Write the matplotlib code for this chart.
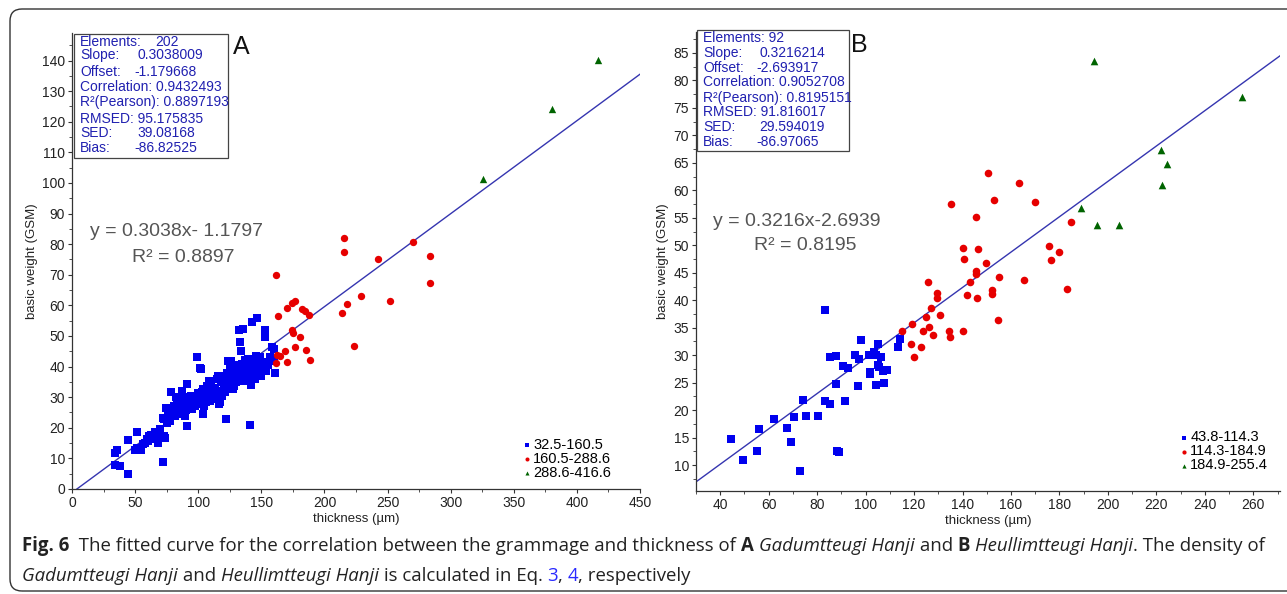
import numpy as np
import matplotlib
matplotlib.use('Agg')
import matplotlib.pyplot as plt
from matplotlib.patches import Rectangle, FancyBboxPatch
from matplotlib.transforms import IdentityTransform
from matplotlib.ticker import MultipleLocator

plt.rcParams['font.family'] = ['Liberation Sans', 'DejaVu Sans']

# ---- panel A (Gadumtteugi Hanji) ----
a_blue_x = [33.9, 34.2, 35.5, 38.2, 44.7, 44.7, 51.6, 50.0, 51.3, 54.6,
            56.2, 57.9, 59.5, 61.2, 62.8, 64.5, 66.1, 67.8, 69.4, 71.0,
            72.0, 72.7, 73.7, 71.7, 72.7, 74.3, 75.0, 76.0, 77.6, 78.3,
            79.3, 80.9, 82.6, 83.5, 84.2, 85.8, 86.8, 87.5, 89.1, 90.1,
            90.8, 91.4, 92.4, 93.4, 94.1, 94.7, 95.7, 97.4, 99.0, 100.6,
            101.3, 102.3, 103.3, 103.9, 104.6, 105.6, 106.6, 107.2, 108.2, 108.9,
            109.9, 110.5, 111.2, 112.2, 113.1, 113.8, 115.4, 116.4, 117.1, 118.7,
            120.4, 121.4, 122.0, 123.0, 123.7, 124.3, 125.3, 126.3, 127.0, 127.6,
            128.6, 129.6, 130.2, 130.9, 131.9, 132.5, 132.9, 133.5, 134.2, 135.2,
            135.2, 136.2, 136.8, 137.5, 138.5, 139.5, 140.1, 141.1, 141.8, 142.4,
            143.4, 144.1, 145.0, 146.0, 146.7, 147.3, 148.3, 149.3, 150.0, 151.6,
            152.6, 153.3, 153.9, 157.2, 158.2, 159.2, 159.8, 160.5, 160.3,
            60.5, 63.5, 66.0, 68.5, 70.0, 76.5, 78.0, 81.5, 83.0, 84.8,
            86.0, 88.0, 89.5, 91.0, 92.8, 94.5, 96.5, 98.0, 99.5, 101.0,
            102.5, 104.0, 105.0, 106.0, 107.8, 109.0, 110.0, 111.8, 113.5, 114.5,
            116.0, 117.8, 119.0, 120.0, 121.0, 122.5, 124.0, 125.8, 127.5, 128.0,
            129.0, 130.5, 131.0, 132.0, 133.5, 134.5, 136.0, 137.0, 138.0, 139.0,
            140.5, 142.0, 143.0, 144.5, 145.5, 147.0, 148.0, 150.5, 152.0, 155.0]
a_blue_y = [8.0, 11.6, 12.7, 7.4, 5.0, 16.0, 18.6, 12.7, 13.5, 12.9,
            14.6, 15.1, 16.4, 17.3, 17.8, 16.4, 17.3, 14.9, 18.2, 17.3,
            8.8, 17.3, 16.8, 23.3, 22.8, 26.6, 21.5, 23.9, 22.2, 31.8,
            25.5, 27.2, 30.2, 26.1, 24.4, 25.2, 32.1, 28.3, 29.9, 25.7,
            20.6, 34.3, 27.2, 28.0, 29.3, 26.1, 27.7, 27.2, 43.0, 29.1,
            39.7, 39.2, 31.8, 24.4, 27.2, 31.0, 33.5, 29.3, 35.4, 30.2,
            31.0, 31.5, 32.6, 29.3, 29.9, 31.0, 37.0, 27.7, 28.5, 32.1,
            33.9, 34.6, 22.8, 35.9, 41.9, 33.2, 39.2, 41.9, 39.2, 32.6,
            33.5, 39.2, 34.8, 37.0, 38.7, 52.1, 48.0, 45.2, 37.0, 52.3,
            35.4, 40.1, 38.7, 35.9, 37.0, 42.5, 39.7, 20.8, 33.9, 54.5,
            38.1, 40.8, 35.9, 41.4, 55.8, 39.7, 42.5, 43.0, 37.0, 38.7,
            49.6, 51.8, 38.7, 43.0, 46.3, 42.5, 45.8, 37.8, 41.9,
            15.8, 16.9, 18.5, 17.0, 19.5, 24.8, 26.3, 24.0, 28.5, 29.5,
            27.0, 26.5, 24.0, 28.8, 26.0, 30.5, 28.6, 30.0, 31.5, 27.8,
            30.8, 32.8, 29.8, 28.3, 32.2, 28.9, 33.8, 30.5, 33.0, 35.8,
            31.2, 35.0, 30.5, 36.8, 31.8, 38.0, 36.5, 34.5, 37.5, 36.0,
            40.5, 36.2, 40.0, 35.5, 39.0, 41.0, 37.5, 42.0, 39.5, 36.5,
            41.5, 37.2, 40.0, 38.5, 43.5, 38.5, 41.0, 40.5, 41.5, 40.5]
a_red_x = [163.1, 170.4, 174.3, 176.6, 182.5, 184.5, 187.8, 174.6, 175.0, 180.6,
           176.3, 185.5, 188.8, 168.4, 165.1, 162.2, 161.5, 170.0, 214.1, 217.7,
           228.6, 251.6, 223.7, 283.5, 161.8, 215.8, 215.8, 242.7, 270.0, 283.5]
a_red_y = [56.4, 59.2, 60.9, 61.5, 58.7, 58.1, 56.8, 52.0, 51.0, 49.7,
           46.4, 45.4, 42.3, 45.1, 43.4, 43.8, 41.3, 41.5, 57.5, 60.4,
           63.1, 61.5, 46.8, 67.4, 69.8, 81.9, 77.6, 75.2, 80.7, 76.2]
a_green_x = [325.3, 380.2, 416.6]
a_green_y = [101.4, 124.2, 140.1]
a_slope, a_offset = 0.3038009, -1.179668
a_labels = ['32.5-160.5', '160.5-288.6', '288.6-416.6']
a_stats = [('Elements:', '202'), ('Slope:', '0.3038009'), ('Offset:', '-1.179668'),
           ('Correlation: 0.9432493', ''), ('R²(Pearson): 0.8897193', ''),
           ('RMSED: 95.175835', ''), ('SED:', '39.08168'), ('Bias:', '-86.82525')]

# ---- panel B (Heullimtteugi Hanji) ----
b_blue_x = [44.4, 49.4, 55.1, 55.8, 62.2, 67.6, 69.4, 70.4, 72.8, 74.1,
            75.3, 80.5, 83.2, 83.2, 85.2, 85.4, 87.6, 87.8, 88.1, 89.1,
            90.6, 91.3, 92.6, 95.7, 97.0, 97.2, 98.2, 101.4, 101.6, 101.9,
            103.4, 104.1, 104.3, 105.1, 105.3, 105.6, 106.4, 107.1, 107.4, 108.9,
            113.2, 114.3]
b_blue_y = [14.7, 11.0, 12.5, 16.5, 18.4, 16.7, 14.2, 18.8, 9.0, 21.9,
            19.0, 19.0, 38.3, 21.6, 21.2, 29.6, 29.8, 24.8, 12.6, 12.4,
            28.1, 21.7, 27.6, 30.1, 24.4, 29.3, 32.7, 30.1, 27.0, 26.5,
            30.5, 24.5, 30.1, 32.1, 28.2, 27.8, 29.6, 27.1, 24.9, 27.3,
            31.5, 33.0]
b_red_x = [115.2, 119.1, 118.7, 120.0, 122.7, 123.6, 124.9, 126.3, 127.1, 127.6,
           129.5, 129.5, 130.5, 134.2, 134.7, 140.2, 141.9, 145.8, 152.0, 152.2,
           154.7, 183.3, 125.6, 135.4, 140.2, 140.6, 143.0, 145.4, 145.7, 145.7,
           146.5, 149.6, 150.3, 153.0, 155.0, 163.2, 165.3, 169.8, 175.8, 176.3,
           179.7, 184.7]
b_red_y = [34.4, 35.6, 32.0, 29.6, 31.5, 34.4, 37.0, 35.2, 38.6, 33.6,
           40.4, 41.3, 37.3, 34.4, 33.3, 34.4, 40.9, 40.4, 41.1, 41.8,
           36.4, 42.0, 43.4, 57.5, 49.5, 47.5, 43.3, 55.2, 45.3, 44.7,
           49.4, 46.8, 63.2, 58.2, 44.3, 61.3, 43.7, 57.9, 49.9, 47.3,
           48.7, 54.2]
b_green_x = [188.9, 194.2, 195.5, 204.6, 221.8, 222.3, 224.4, 255.4]
b_green_y = [56.7, 83.5, 53.6, 53.6, 67.3, 60.9, 64.8, 76.9]
b_slope, b_offset = 0.3216214, -2.693917
b_labels = ['43.8-114.3', '114.3-184.9', '184.9-255.4']
b_stats = [('Elements: 92', ''), ('Slope:', '0.3216214'), ('Offset:', '-2.693917'),
           ('Correlation: 0.9052708', ''), ('R²(Pearson): 0.8195151', ''),
           ('RMSED: 91.816017', ''), ('SED:', '29.594019'), ('Bias:', '-86.97065')]

W, H = 1287, 594
fig = plt.figure(figsize=(W / 100, H / 100), dpi=100)

def fx(px):
    return px / W

def fy(py):
    return 1 - py / H

# rounded frame round the whole figure
frame = FancyBboxPatch((10, 3), 1300, 582, boxstyle='round,pad=0,rounding_size=12',
                       transform=IdentityTransform(), fill=False, ec='#333333', lw=1.0)
fig.patches.append(frame)

box_col = '#2020b0'
line_col = '#3535b0'
blue, red, green = '#0000ee', '#e60000', '#006400'


def panel(rect, xlim, ylim, xmaj, ymaj, xmin, ymin):
    ax = fig.add_axes(rect)
    ax.set_xlim(*xlim)
    ax.set_ylim(*ylim)
    for s in ['top', 'right']:
        ax.spines[s].set_visible(False)
    for s in ['left', 'bottom']:
        ax.spines[s].set_color('#333333')
        ax.spines[s].set_linewidth(0.9)
    ax.xaxis.set_major_locator(MultipleLocator(xmaj))
    ax.yaxis.set_major_locator(MultipleLocator(ymaj))
    ax.xaxis.set_minor_locator(MultipleLocator(xmin))
    ax.yaxis.set_minor_locator(MultipleLocator(ymin))
    ax.tick_params(which='major', length=3, width=0.8, labelsize=10, colors='#333333', labelcolor='#222222', pad=2)
    ax.tick_params(which='minor', length=2, width=0.6, colors='#333333')
    ax.set_xlabel('thickness (µm)', fontsize=9.5, color='#222222', labelpad=2)
    ax.set_ylabel('basic weight (GSM)', fontsize=9.5, color='#222222', labelpad=3)
    return ax


# panel A
axA = panel([fx(72), fy(489), 568 / W, 456 / H], (0, 450), (0, 149), 50, 10, 25, 5)
axA.scatter(a_blue_x, a_blue_y, marker='s', s=28, color=blue, lw=0, label=a_labels[0], zorder=3)
axA.scatter(a_red_x, a_red_y, marker='o', s=28, color=red, lw=0, label=a_labels[1], zorder=3)
axA.scatter(a_green_x, a_green_y, marker='^', s=28, color=green, lw=0, label=a_labels[2], zorder=3)
xa = np.array([-a_offset / a_slope, 450])
axA.plot(xa, a_slope * xa + a_offset, color=line_col, lw=1.0, zorder=2)
axA.legend(loc='upper left', bbox_to_anchor=(0.78, 0.128), frameon=False, fontsize=10.5,
           handlelength=0.6, handletextpad=0.15, labelspacing=0.0, borderpad=0, markerscale=0.55)

# panel B
axB = panel([fx(696), fy(491), 584 / W, 459 / H], (30, 271), (5.3, 88.8), 20, 5, 10, 2.5)
axB.scatter(b_blue_x, b_blue_y, marker='s', s=30, color=blue, lw=0, label=b_labels[0], zorder=3)
axB.scatter(b_red_x, b_red_y, marker='o', s=30, color=red, lw=0, label=b_labels[1], zorder=3)
axB.scatter(b_green_x, b_green_y, marker='^', s=30, color=green, lw=0, label=b_labels[2], zorder=3)
xb = np.array([30, 271])
axB.plot(xb, b_slope * xb + b_offset, color=line_col, lw=1.0, zorder=2)
axB.legend(loc='upper left', bbox_to_anchor=(0.815, 0.148), frameon=False, fontsize=10.5,
           handlelength=0.6, handletextpad=0.15, labelspacing=0.0, borderpad=0, markerscale=0.55)


def stats_box(x0, y0, x1, y1, rows, row_y, val_x):
    fig.patches.append(Rectangle((fx(x0), fy(y1)), fx(x1) - fx(x0), fy(y0) - fy(y1),
                                 transform=fig.transFigure, fill=True, fc='white',
                                 ec='#444444', lw=0.9, zorder=5))
    for (lab, val), py, vx in zip(rows, row_y, val_x):
        fig.text(fx(x0 + 6), fy(py), lab, color=box_col, fontsize=10, va='center', zorder=6)
        if val:
            fig.text(fx(vx), fy(py), val, color=box_col, fontsize=10, va='center', zorder=6)


stats_box(74, 34, 228, 158, a_stats, [42, 55, 72, 87, 102, 119, 133, 148],
          [155, 137, 134, 0, 0, 0, 137, 134])
stats_box(697, 30, 849, 151, b_stats, [38, 53, 68, 82, 98, 112, 127, 142],
          [0, 759, 756, 0, 0, 0, 759, 756])

fig.text(fx(233), fy(47), 'A', fontsize=18, va='center', color='#111111')
fig.text(fx(851), fy(45), 'B', fontsize=18, va='center', color='#111111')

fig.text(fx(176), fy(232), 'y = 0.3038x- 1.1797', fontsize=14, color='#555555', ha='center', va='center')
fig.text(fx(183), fy(258), 'R² = 0.8897', fontsize=14, color='#555555', ha='center', va='center')
fig.text(fx(797), fy(221), 'y = 0.3216x-2.6939', fontsize=14, color='#555555', ha='center', va='center')
fig.text(fx(805), fy(246), 'R² = 0.8195', fontsize=14, color='#555555', ha='center', va='center')

# caption, placed piece by piece
cap1 = [('Fig. 6', 'bold', 'normal', '#222222'),
        ('  The fitted curve for the correlation between the grammage and thickness of ', 'normal', 'normal', '#222222'),
        ('A', 'bold', 'normal', '#222222'), (' ', 'normal', 'normal', '#222222'),
        ('Gadumtteugi Hanji', 'normal', 'italic', '#222222'), (' and ', 'normal', 'normal', '#222222'),
        ('B', 'bold', 'normal', '#222222'), (' ', 'normal', 'normal', '#222222'),
        ('Heullimtteugi Hanji', 'normal', 'italic', '#222222'),
        ('. The density of', 'normal', 'normal', '#222222')]
cap2 = [('Gadumtteugi Hanji', 'normal', 'italic', '#222222'), (' and ', 'normal', 'normal', '#222222'),
        ('Heullimtteugi Hanji', 'normal', 'italic', '#222222'),
        (' is calculated in Eq. ', 'normal', 'normal', '#222222'),
        ('3', 'normal', 'normal', '#2a2aff'), (', ', 'normal', 'normal', '#222222'),
        ('4', 'normal', 'normal', '#2a2aff'), (', respectively', 'normal', 'normal', '#222222')]

renderer = fig.canvas.get_renderer()
cap_font = ['Open Sans', 'DejaVu Sans']
cap_size = 13.4
for pieces, py in [(cap1, 546), (cap2, 576)]:
    x = 22
    for s, wgt, sty, col in pieces:
        t = fig.text(fx(x), fy(py), s, fontsize=cap_size, fontweight=wgt, fontstyle=sty,
                     color=col, va='center', family=cap_font)
        x += t.get_window_extent(renderer).width

fig.savefig('out.png', dpi=100)
